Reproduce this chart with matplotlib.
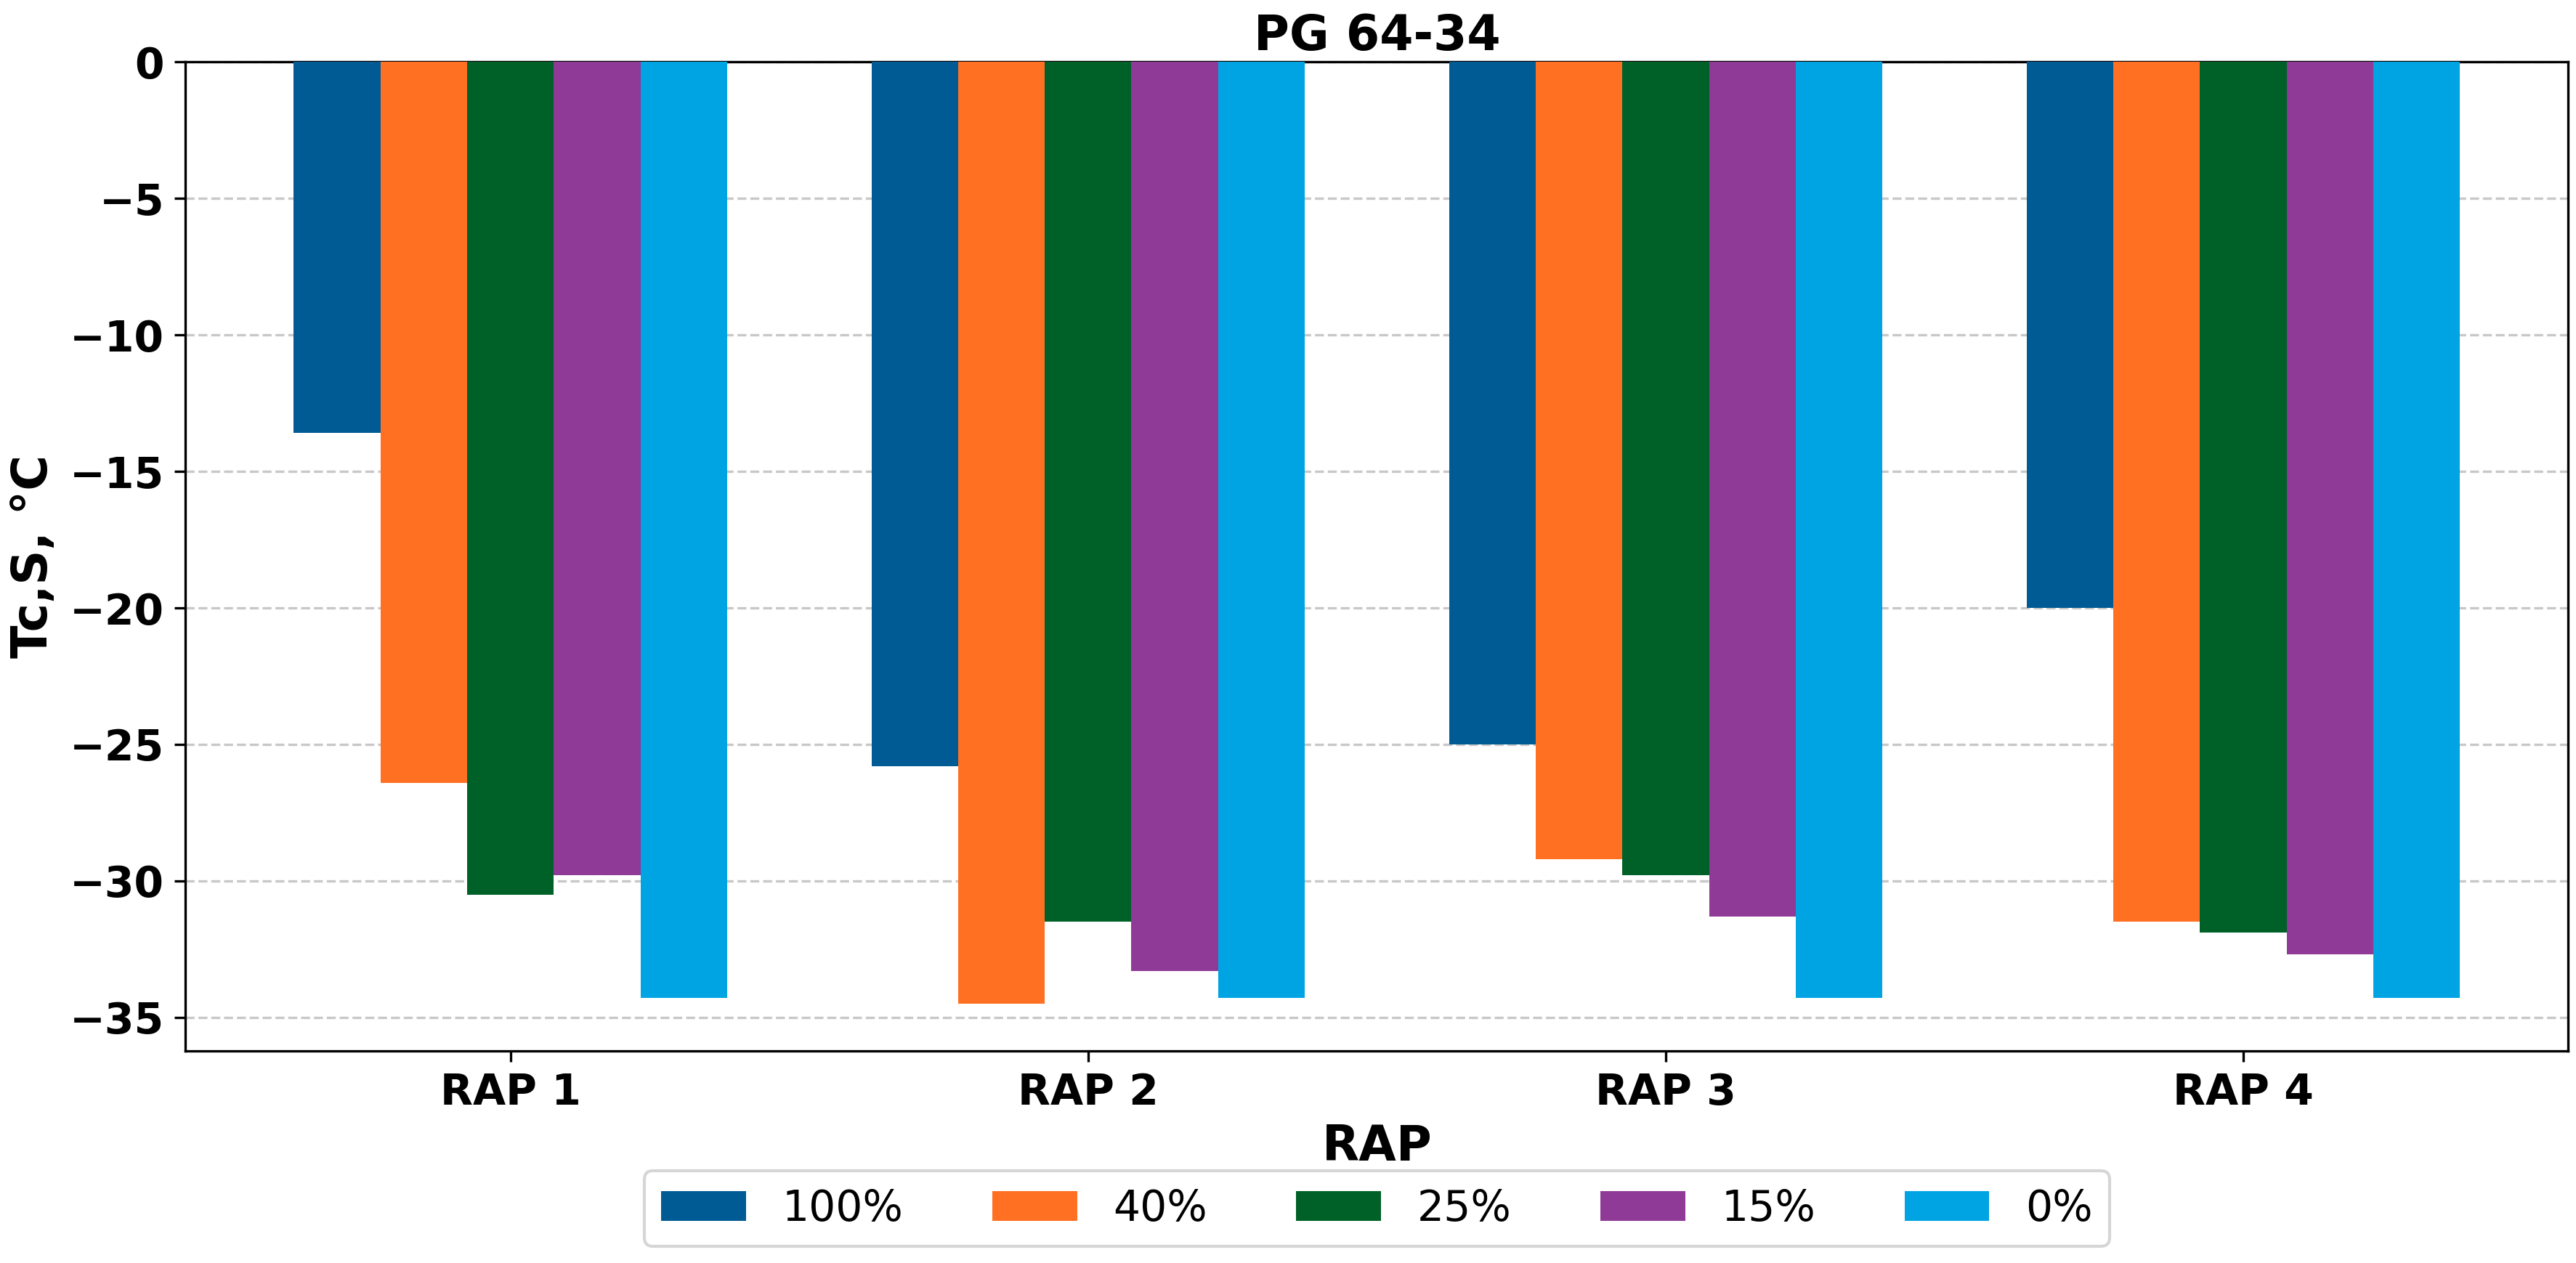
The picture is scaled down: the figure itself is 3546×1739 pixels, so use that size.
import numpy as np
import matplotlib
matplotlib.use("Agg")
import matplotlib.pyplot as plt

# Data
groups = ["RAP 1", "RAP 2", "RAP 3", "RAP 4"]
series = ["100%", "40%", "25%", "15%", "0%"]
vals_100 = [-13.6, -25.8, -25.0, -20.0]
vals_40 = [-26.4, -34.5, -29.2, -31.5]
vals_25 = [-30.5, -31.5, -29.8, -31.9]
vals_15 = [-29.8, -33.3, -31.3, -32.7]
vals_0 = [-34.3, -34.3, -34.3, -34.3]
colors = ["#005b94", "#ff7022", "#006128", "#8e3a96", "#00a4e3"]

all_vals = [vals_100, vals_40, vals_25, vals_15, vals_0]

fig, ax = plt.subplots(figsize=(11.82, 5.797), dpi=300)
fig.subplots_adjust(left=0.072, right=0.997, top=0.951, bottom=0.168)

x = np.arange(len(groups))
width = 0.15
for i, (name, v) in enumerate(zip(series, all_vals)):
    ax.bar(x + (i - 2) * width, v, width, label=name, color=colors[i], zorder=3)

ax.set_xticks(x)
ax.set_xticklabels(groups, fontsize=14, fontweight="bold")
ax.tick_params(axis="y", labelsize=14)
for lab in ax.get_yticklabels():
    lab.set_fontweight("bold")
ax.yaxis.grid(True, linestyle="--", color="#c8c8c8", linewidth=0.8, zorder=0)
ax.set_axisbelow(True)

ax.set_title("PG 64-34", fontsize=16, fontweight="bold", pad=4)
ax.set_xlabel("RAP", fontsize=16, fontweight="bold", labelpad=3)
ax.set_ylabel("Tc,S, °C", fontsize=16, fontweight="bold")

ax.legend(loc="upper center", bbox_to_anchor=(0.5, -0.1), ncol=5, fontsize=14,
          handlelength=2.0, columnspacing=2.1, handletextpad=0.85)

plt.savefig("out.png", dpi=300)
